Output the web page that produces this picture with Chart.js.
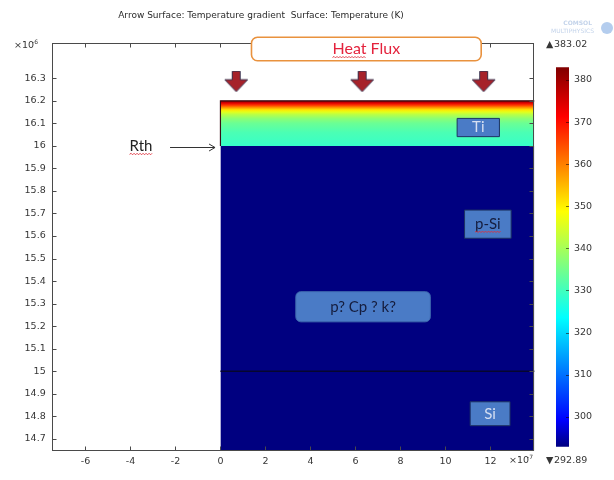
<!DOCTYPE html>
<html>
<head>
<meta charset="utf-8">
<script src="https://cdn.jsdelivr.net/npm/chart.js@4/dist/chart.umd.min.js"></script>
<style>
  html, body { margin: 0; padding: 0; background: #fff; }
  #wrap { position: relative; width: 614px; height: 480px; overflow: hidden; }
  #main { position: absolute; left: 0; top: 0; }
  #bar  { position: absolute; left: 540px; top: 0; }
</style>
</head>
<body>
<div id="wrap">
  <canvas id="main" width="614" height="480"></canvas>
  <canvas id="bar" width="74" height="480"></canvas>
</div>
<script>
// ---- geometry (x in 1e-7 m, y in 1e-6 m) ----
const xTicks = [-6, -4, -2, 0, 2, 4, 6, 8, 10, 12];
const yTicks = [14.7, 14.8, 14.9, 15, 15.1, 15.2, 15.3, 15.4, 15.5, 15.6, 15.7, 15.8, 15.9, 16, 16.1, 16.2, 16.3];
const xRange = [-7.5, 13.95];
const yRange = [14.647, 16.458];

const domainX = [0, 14];
const layerNames  = ['p-Si', 'Si', 'Ti'];
const layerBottom = [15.0, 14.6, 16.0];
const layerTop    = [16.0, 15.0, 16.2];

// ---- temperature field (K) ----
const bulkTempK = 292.89;                       // Si / p-Si
const tiHeight = [16.2, 16.19, 16.18, 16.17, 16.16, 16.15, 16.14, 16.12, 16.10, 16.06, 16.0];
const tiTempK  = [383.02, 374, 366, 358, 351, 346, 342, 337, 334, 331, 329];
const tempMin = 292.89;
const tempMax = 383.02;
const tempTicks = [300, 310, 320, 330, 340, 350, 360, 370, 380];

// ---- heat-flux arrows ----
const fluxArrowX = [0.7, 6.3, 11.7];
const fluxArrowY = [16.285, 16.285, 16.285];

// rainbow colour map
const cmapStops = [
  [0.00, [0, 0, 128]],
  [0.07, [0, 0, 255]],
  [0.34, [0, 255, 255]],
  [0.62, [255, 255, 0]],
  [0.87, [255, 0, 0]],
  [1.00, [128, 0, 0]]
];
function cmapAt(f) {
  f = Math.max(0, Math.min(1, f));
  for (let i = 1; i < cmapStops.length; i++) {
    const [f1, c1] = cmapStops[i];
    const [f0, c0] = cmapStops[i - 1];
    if (f <= f1) {
      const t = (f - f0) / (f1 - f0);
      const c = c0.map((v, k) => Math.round(v + (c1[k] - v) * t));
      return `rgb(${c[0]},${c[1]},${c[2]})`;
    }
  }
  return 'rgb(128,0,0)';
}
function tempColor(T) { return cmapAt((T - tempMin) / (tempMax - tempMin)); }

function tiGradient(chart) {
  const ys = chart.scales && chart.scales.y;
  if (!ys) return tempColor(tiTempK[0]);
  const top = ys.getPixelForValue(tiHeight[0]);
  const bot = ys.getPixelForValue(tiHeight[tiHeight.length - 1]);
  if (!isFinite(top) || !isFinite(bot) || top === bot) return tempColor(tiTempK[0]);
  const g = chart.ctx.createLinearGradient(0, top, 0, bot);
  tiHeight.forEach((h, i) => {
    const p = (ys.getPixelForValue(h) - top) / (bot - top);
    g.addColorStop(Math.max(0, Math.min(1, p)), tempColor(tiTempK[i]));
  });
  return g;
}

function makeArrowIcon() {
  const c = document.createElement('canvas');
  c.width = 25; c.height = 22;
  const g = c.getContext('2d');
  g.beginPath();
  g.moveTo(8.5, 0.5); g.lineTo(16.5, 0.5); g.lineTo(16.5, 9);
  g.lineTo(24, 9); g.lineTo(12.5, 21); g.lineTo(1, 9); g.lineTo(8.5, 9);
  g.closePath();
  g.fillStyle = '#a6222a'; g.fill();
  g.strokeStyle = '#3c3450'; g.lineWidth = 1; g.stroke();
  return c;
}

const layerDatasets = layerNames.map((name, i) => {
  const isTi = name === 'Ti';
  const pts = isTi
    ? [{x: domainX[0], y: layerBottom[i]}, {x: domainX[0], y: layerTop[i]},
       {x: domainX[1], y: layerTop[i]}, {x: domainX[1], y: layerBottom[i]}]
    : domainX.map(x => ({x, y: layerTop[i]}));
  return {
    type: 'line',
    label: name,
    data: pts,
    fill: {value: layerBottom[i]},
    backgroundColor: isTi ? (ctx => tiGradient(ctx.chart)) : tempColor(bulkTempK),
    borderColor: isTi ? '#3a0c14' : (name === 'Si' ? '#06062e' : tempColor(bulkTempK)),
    borderWidth: isTi ? 1.2 : (name === 'Si' ? 1.5 : 0),
    pointRadius: 0,
    tension: 0,
    order: isTi ? 1 : (name === 'Si' ? 2 : 3)
  };
});

const arrowIcon = makeArrowIcon();
const arrowDataset = {
  type: 'scatter',
  label: 'Heat flux',
  data: fluxArrowX.map((x, i) => ({x, y: fluxArrowY[i]})),
  pointStyle: arrowIcon,
  pointRadius: 11,
  order: 0
};

const labelFont = 'DejaVu Sans';
const tickColor = '#363636';

// frame with inward tick marks on all four sides
const frameTicks = {
  id: 'frameTicks',
  afterDatasetsDraw(chart) {
    const {ctx, chartArea: a, scales: {x, y}} = chart;
    const L = Math.round(a.left) + 0.5, R = Math.round(a.right) - 0.5;
    const T = Math.round(a.top) + 0.5, B = Math.round(a.bottom) - 0.5;
    ctx.save();
    ctx.strokeStyle = '#4a4a4a';
    ctx.lineWidth = 1;
    ctx.strokeRect(L, T, R - L, B - T);
    ctx.beginPath();
    xTicks.forEach(v => {
      const px = Math.round(x.getPixelForValue(v)) + 0.5;
      ctx.moveTo(px, B); ctx.lineTo(px, B - 4);
      ctx.moveTo(px, T); ctx.lineTo(px, T + 4);
    });
    yTicks.forEach(v => {
      const py = Math.round(y.getPixelForValue(v)) + 0.5;
      ctx.moveTo(L, py); ctx.lineTo(L + 4, py);
      ctx.moveTo(R, py); ctx.lineTo(R - 4, py);
    });
    ctx.stroke();
    ctx.restore();
  }
};

function wavy(ctx, x0, x1, y) {
  ctx.save();
  ctx.strokeStyle = '#e0303c';
  ctx.lineWidth = 0.9;
  ctx.beginPath();
  let up = true;
  ctx.moveTo(x0, y);
  for (let px = x0 + 1.5; px <= x1; px += 1.5) {
    ctx.lineTo(px, y + (up ? -1.1 : 0.4));
    up = !up;
  }
  ctx.stroke();
  ctx.restore();
}

function roundRect(ctx, x, y, w, h, r) {
  ctx.beginPath();
  ctx.moveTo(x + r, y);
  ctx.lineTo(x + w - r, y); ctx.arcTo(x + w, y, x + w, y + r, r);
  ctx.lineTo(x + w, y + h - r); ctx.arcTo(x + w, y + h, x + w - r, y + h, r);
  ctx.lineTo(x + r, y + h); ctx.arcTo(x, y + h, x, y + h - r, r);
  ctx.lineTo(x, y + r); ctx.arcTo(x, y, x + r, y, r);
  ctx.closePath();
}

// material tags placed in data coordinates
const tags = [
  {text: 'Ti',         x: [10.52, 12.40], y: [16.122, 16.041], r: 0, ink: '#d6dff2', edge: '#1d3262', squiggle: false},
  {text: 'p-Si',       x: [10.85, 12.92], y: [15.715, 15.590], r: 0, ink: '#151d3e', edge: '#1d3262', squiggle: true},
  {text: 'p? Cp ? k?', x: [3.35, 9.33],   y: [15.353, 15.219], r: 5, ink: '#151d3e', edge: '#3d67ad', squiggle: false},
  {text: 'Si',         x: [11.10, 12.87], y: [14.864, 14.758], r: 0, ink: '#d6dff2', edge: '#1d3262', squiggle: false}
];

const annotations = {
  id: 'annotations',
  afterDraw(chart) {
    const {ctx, scales: {x, y}} = chart;
    const px = v => x.getPixelForValue(v);
    const py = v => y.getPixelForValue(v);
    ctx.save();

    // plot title
    ctx.fillStyle = '#2a2a2a';
    ctx.font = `9px "${labelFont}"`;
    ctx.textAlign = 'center';
    ctx.textBaseline = 'middle';
    ctx.fillText('Arrow Surface: Temperature gradient  Surface: Temperature (K)', 261, 16);

    // axis multipliers
    ctx.fillStyle = tickColor;
    ctx.textAlign = 'left';
    ctx.font = `9.5px "${labelFont}"`;
    ctx.fillText('\u00d710', 14, 46);
    ctx.font = `6px "${labelFont}"`;
    ctx.fillText('-6', 32, 42);
    ctx.font = `9.5px "${labelFont}"`;
    ctx.fillText('\u00d710', 509, 461);
    ctx.font = `6px "${labelFont}"`;
    ctx.fillText('-7', 527, 457);

    // logo text
    ctx.fillStyle = '#c3d3ea';
    ctx.font = `bold 6px "${labelFont}"`;
    ctx.textAlign = 'right';
    ctx.fillText('COMSOL', 592, 23);
    ctx.font = `6px "${labelFont}"`;
    ctx.fillText('MULTIPHYSICS', 594, 31);
    ctx.fillStyle = '#b4cdee';
    ctx.beginPath(); ctx.arc(607, 28, 6, 0, Math.PI * 2); ctx.fill();

    // heat flux banner
    const hx0 = px(1.38), hx1 = px(11.59), hy0 = py(16.482), hy1 = py(16.378);
    roundRect(ctx, hx0, hy0, hx1 - hx0, hy1 - hy0, 6);
    ctx.fillStyle = '#fff'; ctx.fill();
    ctx.strokeStyle = '#e9923e'; ctx.lineWidth = 1.6; ctx.stroke();
    ctx.font = '16px Lato';
    ctx.fillStyle = '#e4233d';
    ctx.textAlign = 'center';
    const hcx = (hx0 + hx1) / 2, hcy = (hy0 + hy1) / 2;
    ctx.fillText('Heat Flux', hcx, hcy);
    const fullW = ctx.measureText('Heat Flux').width;
    const heatW = ctx.measureText('Heat').width;
    wavy(ctx, hcx - fullW / 2, hcx - fullW / 2 + heatW, hcy + 8.5);

    // material tags
    tags.forEach(t => {
      const x0 = px(t.x[0]), x1 = px(t.x[1]), y0 = py(t.y[0]), y1 = py(t.y[1]);
      if (t.r) roundRect(ctx, x0, y0, x1 - x0, y1 - y0, t.r);
      else { ctx.beginPath(); ctx.rect(x0, y0, x1 - x0, y1 - y0); }
      ctx.fillStyle = '#4a7bc6'; ctx.fill();
      ctx.strokeStyle = t.edge; ctx.lineWidth = 1; ctx.stroke();
      ctx.fillStyle = t.ink;
      ctx.font = '15px Lato';
      ctx.textAlign = 'center';
      const cx = (x0 + x1) / 2, cy = (y0 + y1) / 2;
      ctx.fillText(t.text, cx, cy);
      if (t.squiggle) {
        const w = ctx.measureText(t.text).width;
        wavy(ctx, cx - w / 2, cx + w / 2, cy + 8);
      }
    });

    // thermal boundary resistance callout
    ctx.fillStyle = '#222';
    ctx.font = '15px Lato';
    ctx.textAlign = 'center';
    const rx = px(-3.53), ry = py(16.0);
    ctx.fillText('Rth', rx, ry);
    const rw = ctx.measureText('Rth').width;
    wavy(ctx, rx - rw / 2, rx + rw / 2, ry + 8.5);
    const ax0 = px(-2.24), ax1 = px(-0.24), ay = Math.round(py(15.995)) + 0.5;
    ctx.strokeStyle = '#333'; ctx.lineWidth = 1;
    ctx.beginPath();
    ctx.moveTo(ax0, ay); ctx.lineTo(ax1, ay);
    ctx.moveTo(ax1 - 6, ay - 3.5); ctx.lineTo(ax1, ay); ctx.lineTo(ax1 - 6, ay + 3.5);
    ctx.stroke();

    ctx.restore();
  }
};

const mainChart = new Chart(document.getElementById('main'), {
  type: 'scatter',
  data: {datasets: [arrowDataset, ...layerDatasets]},
  options: {
    responsive: false,
    animation: false,
    layout: {padding: {left: 0, right: 79.7, top: 42.7, bottom: 0}},
    plugins: {legend: {display: false}, tooltip: {enabled: false}, title: {display: false}},
    scales: {
      x: {
        type: 'linear', min: xRange[0], max: xRange[1],
        grid: {display: false, drawTicks: false},
        border: {display: false},
        ticks: {padding: 5, color: tickColor, font: {family: labelFont, size: 9.5},
                autoSkip: false, maxRotation: 0, callback: v => String(v)},
        afterBuildTicks: s => { s.ticks = xTicks.map(v => ({value: v})); },
        afterFit: s => { s.height = 29.3; }
      },
      y: {
        type: 'linear', min: yRange[0], max: yRange[1],
        grid: {display: false, drawTicks: false},
        border: {display: false},
        ticks: {padding: 6, color: tickColor, font: {family: labelFont, size: 9.5},
                autoSkip: false, callback: v => String(v)},
        afterBuildTicks: s => { s.ticks = yTicks.map(v => ({value: v})); },
        afterFit: s => { s.width = 51.7; }
      }
    }
  },
  plugins: [frameTicks, annotations]
});
mainChart.update();

// ---- colour legend ----
function colorbarGradient(chart) {
  const ys = chart.scales && chart.scales.y;
  if (!ys) return tempColor(tempMin);
  const b = ys.getPixelForValue(tempMin), t = ys.getPixelForValue(tempMax);
  if (!isFinite(b) || !isFinite(t) || b === t) return tempColor(tempMin);
  const g = chart.ctx.createLinearGradient(0, b, 0, t);
  cmapStops.forEach(([f]) => g.addColorStop(f, cmapAt(f)));
  return g;
}

const colorbarMarks = {
  id: 'colorbarMarks',
  afterDraw(chart) {
    const {ctx, chartArea: a, scales: {y}} = chart;
    ctx.save();
    ctx.strokeStyle = 'rgba(20,0,0,0.55)';
    ctx.lineWidth = 1;
    ctx.beginPath();
    tempTicks.forEach(v => {
      const p = Math.round(y.getPixelForValue(v)) + 0.5;
      ctx.moveTo(a.right - 3, p); ctx.lineTo(a.right, p);
    });
    ctx.stroke();
    ctx.fillStyle = '#363636';
    ctx.font = `9.5px "${labelFont}"`;
    ctx.textBaseline = 'middle';
    ctx.textAlign = 'left';
    ctx.fillText('\u25B2', 6, 44.5);
    ctx.fillText(tempMax.toFixed(2), 14, 44.5);
    ctx.fillText('\u25BC', 6, 460.5);
    ctx.fillText(tempMin.toFixed(2), 14, 460.5);
    ctx.restore();
  }
};

const barChart = new Chart(document.getElementById('bar'), {
  type: 'bar',
  data: {
    labels: ['T'],
    datasets: [{
      data: [[tempMin, tempMax]],
      backgroundColor: ctx => colorbarGradient(ctx.chart),
      borderWidth: 0,
      borderSkipped: false,
      barPercentage: 1,
      categoryPercentage: 1
    }]
  },
  options: {
    responsive: false,
    animation: false,
    layout: {padding: {left: 16, right: 0, top: 67.3, bottom: 33.3}},
    plugins: {legend: {display: false}, tooltip: {enabled: false}},
    scales: {
      x: {display: false},
      y: {
        position: 'right', min: tempMin, max: tempMax,
        grid: {display: false, drawTicks: false},
        border: {display: false},
        ticks: {padding: 5, color: tickColor, font: {family: labelFont, size: 9.5}, autoSkip: false},
        afterBuildTicks: s => { s.ticks = tempTicks.map(v => ({value: v})); },
        afterFit: s => { s.width = 45; }
      }
    }
  },
  plugins: [colorbarMarks]
});
barChart.update();
</script>
</body>
</html>
